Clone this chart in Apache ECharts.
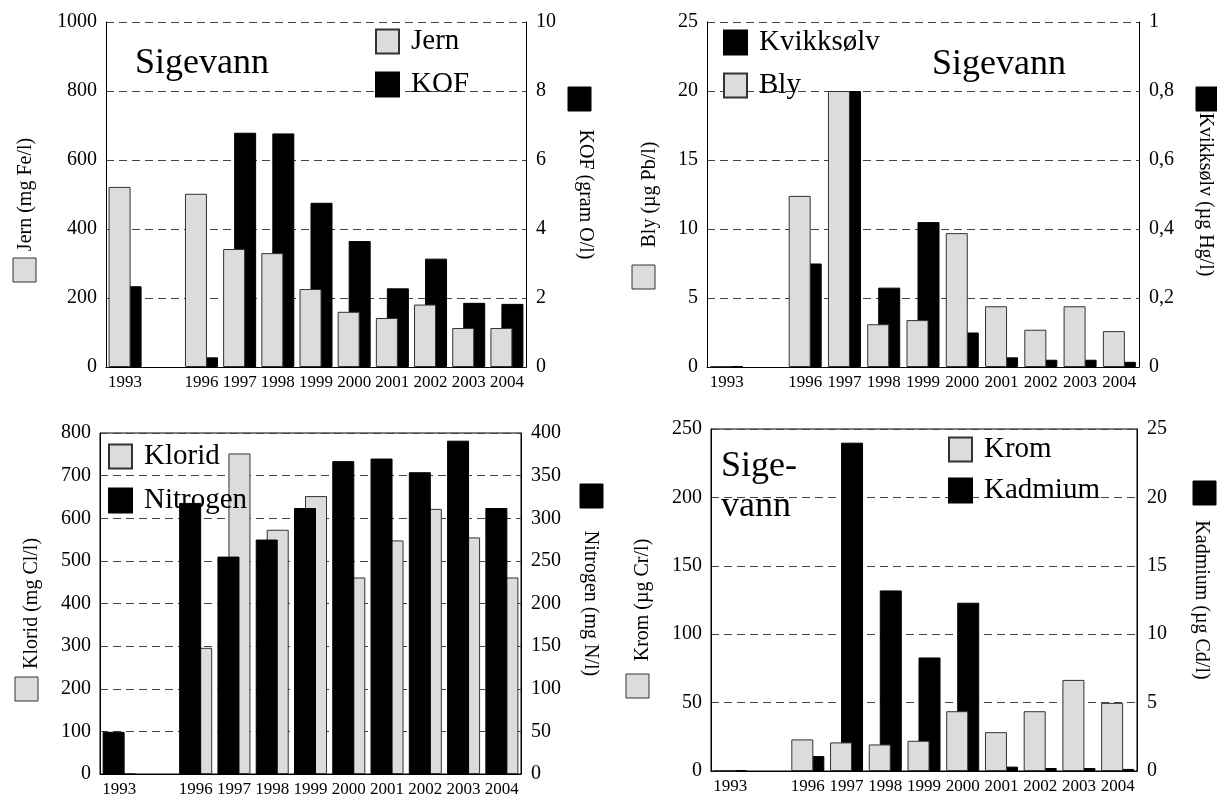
<!DOCTYPE html>
<html>
<head>
<meta charset="utf-8">
<script src="https://cdn.jsdelivr.net/npm/echarts@6/dist/echarts.min.js"></script>
<style>
html,body{margin:0;padding:0;background:#fff;}
#c{width:1217px;height:798px;}
</style>
</head>
<body>
<div id="c"></div>
<script>
// Categories (1994-1995 not measured: blank slot)
const years = ['1993', '', '1996', '1997', '1998', '1999', '2000', '2001', '2002', '2003', '2004'];

// Panel 1
const jern = [522, null, 502, 342, 330, 226, 160, 142, 181, 113, 113];          // mg Fe/l
const kof = [2.34, null, 0.28, 6.79, 6.77, 4.76, 3.65, 2.28, 3.14, 1.86, 1.83];   // gram O/l
// Panel 2
const bly = [0.05, null, 12.4, 20.0, 3.1, 3.4, 9.7, 4.4, 2.7, 4.4, 2.6];           // µg Pb/l
const kvikksolv = [0.002, null, 0.30, 0.80, 0.23, 0.42, 0.10, 0.028, 0.021, 0.021, 0.015]; // µg Hg/l
// Panel 3
const klorid = [2, null, 296, 752, 573, 652, 461, 548, 622, 555, 461];             // mg Cl/l
const nitrogen = [49.5, null, 318, 255, 275, 312, 367, 370, 354, 391, 312];        // mg N/l
// Panel 4
const krom = [0.3, null, 23.1, 20.9, 19.4, 22.1, 43.7, 28.4, 43.7, 66.6, 49.8];   // µg Cr/l
const kadmium = [0.03, null, 1.09, 24.0, 13.2, 8.3, 12.3, 0.32, 0.22, 0.22, 0.15]; // µg Cd/l

const FONT = 'Liberation Serif, Times New Roman, serif';
const LIGHT = '#dcdcdc', DARK = '#000000';
const lightStyle = {color: LIGHT, borderColor: '#333', borderWidth: 1};
const darkStyle = {color: DARK, borderColor: '#000', borderWidth: 1};

const grids = [
  {left: 106, top: 22, width: 420, height: 345},
  {left: 707, top: 22, width: 432, height: 345},
  {left: 100, top: 433, width: 421, height: 343, show: true, borderColor: '#000', borderWidth: 1, backgroundColor: 'transparent'},
  {left: 711, top: 429, width: 426, height: 342, show: true, borderColor: '#000', borderWidth: 1, backgroundColor: 'transparent'}
];

const xAxes = grids.map((g, i) => ({
  type: 'category', gridIndex: i, data: years,
  axisLine: {lineStyle: {color: '#000', width: 1.2}},
  axisTick: {show: false},
  axisLabel: {interval: 0, fontSize: 17, color: '#000', fontFamily: FONT, margin: 7}
}));

function plainFmt(v) { return String(parseFloat(Number(v).toFixed(3))); }
function commaFmt(v) { return plainFmt(v).replace('.', ','); }

function yAxis(grid, side, min, max, interval, name, gap, split, fmt) {
  return {
    type: 'value', gridIndex: grid, position: side, min: min, max: max, interval: interval,
    name: name, nameLocation: 'middle', nameGap: gap, nameRotate: side === 'left' ? 90 : -90,
    nameTextStyle: {fontSize: 20, color: '#000', fontFamily: FONT},
    axisLine: {show: true, lineStyle: {color: '#000', width: 1}},
    axisTick: {show: false},
    axisLabel: {fontSize: 20, color: '#000', fontFamily: FONT, margin: side === 'left' ? 9 : 10, formatter: fmt || plainFmt},
    splitLine: {show: split, lineStyle: {color: '#444', type: [8, 5], width: 1}}
  };
}

const yAxes = [
  yAxis(0, 'left', 0, 1000, 200, 'Jern (mg Fe/l)', 70, true),
  yAxis(0, 'right', 0, 10, 2, 'KOF (gram O/l)', 49, false),
  yAxis(1, 'left', 0, 25, 5, 'Bly (µg Pb/l)', 47, true),
  yAxis(1, 'right', 0, 1, 0.2, 'Kvikksølv (µg Hg/l)', 56, false, commaFmt),
  yAxis(2, 'left', 0, 800, 100, 'Klorid (mg Cl/l)', 58, true),
  yAxis(2, 'right', 0, 400, 50, 'Nitrogen (mg N/l)', 59, false),
  yAxis(3, 'left', 0, 250, 50, 'Krom (µg Cr/l)', 58, true),
  yAxis(3, 'right', 0, 25, 5, 'Kadmium (µg Cd/l)', 54, false)
];

function bar(name, data, x, y, style, z) {
  return {type: 'bar', name: name, data: data, xAxisIndex: x, yAxisIndex: y,
    itemStyle: style, barWidth: 22, barGap: '-50%', z: z, silent: true, animation: false};
}

const series = [
  bar('Jern', jern, 0, 0, lightStyle, 3),
  bar('KOF', kof, 0, 1, darkStyle, 2),
  bar('Bly', bly, 1, 2, lightStyle, 3),
  bar('Kvikksølv', kvikksolv, 1, 3, darkStyle, 2),
  bar('Nitrogen', nitrogen, 2, 5, darkStyle, 3),
  bar('Klorid', klorid, 2, 4, lightStyle, 2),
  bar('Krom', krom, 3, 6, lightStyle, 3),
  bar('Kadmium', kadmium, 3, 7, darkStyle, 2)
];

function legend(names, left, top, gap) {
  return {data: names, left: left, top: top, orient: 'vertical', padding: 0,
    itemWidth: 23, itemHeight: 24, itemGap: gap, icon: 'rect', selectedMode: false,
    textStyle: {fontSize: 29, color: '#000', fontFamily: FONT, padding: [2, 0, 0, 7]}};
}

const titleStyle = {fontSize: 36, fontWeight: 'normal', color: '#000', fontFamily: FONT, lineHeight: 40};

function sq(x, y, fill) {
  return {type: 'rect', shape: {x: x, y: y, width: 23, height: 24},
    style: {fill: fill, stroke: fill === DARK ? '#000' : '#333', lineWidth: 1}};
}

const option = {
  animation: false,
  textStyle: {fontFamily: FONT},
  grid: grids,
  xAxis: xAxes,
  yAxis: yAxes,
  series: series,
  legend: [
    legend(['Jern', 'KOF'], 375, 27, 14),
    legend(['Kvikksølv', 'Bly'], 723, 28, 14),
    legend(['Klorid', 'Nitrogen'], 108, 442, 15),
    legend(['Krom', 'Kadmium'], 948, 435, 12)
  ],
  title: [
    {text: 'Sigevann', left: 135, top: 44, padding: 0, textStyle: titleStyle},
    {text: 'Sigevann', left: 932, top: 45, padding: 0, textStyle: titleStyle},
    {text: 'Sige-\nvann', left: 721, top: 447, padding: 0, textStyle: titleStyle}
  ],
  graphic: [
    sq(13, 258, LIGHT), sq(568, 87, DARK),
    sq(632, 265, LIGHT), sq(1196, 87, DARK),
    sq(15, 677, LIGHT), sq(580, 484, DARK),
    sq(626, 674, LIGHT), sq(1193, 481, DARK)
  ]
};

const chart = echarts.init(document.getElementById('c'), null, {renderer: 'canvas'});
chart.setOption(option);
</script>
</body>
</html>
